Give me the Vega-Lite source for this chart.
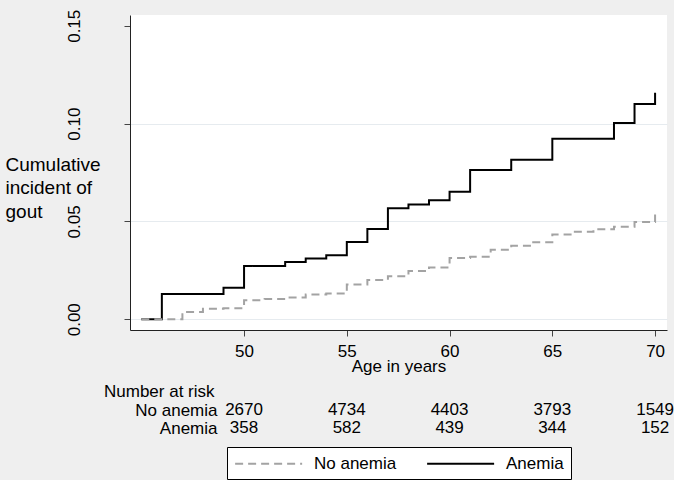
{
  "$schema": "https://vega.github.io/schema/vega-lite/v6.json",
  "background": "#efefef",
  "padding": {"left": 5, "top": 9, "right": 0, "bottom": 0},
  "spacing": 9,
  "config": {
    "font": "Liberation Sans",
    "view": {"stroke": null},
    "axis": {"labelColor": "black", "titleColor": "black", "titleFontWeight": "normal", "labelFontSize": 17, "titleFontSize": 17}
  },
  "datasets": {
    "curves": [
      {"group": "Anemia", "age": 45, "cuminc": 0},
      {"group": "Anemia", "age": 46, "cuminc": 0.0129},
      {"group": "Anemia", "age": 49, "cuminc": 0.0161},
      {"group": "Anemia", "age": 50, "cuminc": 0.0272},
      {"group": "Anemia", "age": 52, "cuminc": 0.0293},
      {"group": "Anemia", "age": 53, "cuminc": 0.0311},
      {"group": "Anemia", "age": 54, "cuminc": 0.0327},
      {"group": "Anemia", "age": 55, "cuminc": 0.0395},
      {"group": "Anemia", "age": 56, "cuminc": 0.0461},
      {"group": "Anemia", "age": 57, "cuminc": 0.0567},
      {"group": "Anemia", "age": 58, "cuminc": 0.0587},
      {"group": "Anemia", "age": 59, "cuminc": 0.0608},
      {"group": "Anemia", "age": 60, "cuminc": 0.0652},
      {"group": "Anemia", "age": 61, "cuminc": 0.0763},
      {"group": "Anemia", "age": 63, "cuminc": 0.0815},
      {"group": "Anemia", "age": 65, "cuminc": 0.0922},
      {"group": "Anemia", "age": 68, "cuminc": 0.1003},
      {"group": "Anemia", "age": 69, "cuminc": 0.1100},
      {"group": "Anemia", "age": 70, "cuminc": 0.1157},
      {"group": "No anemia", "age": 45, "cuminc": 0},
      {"group": "No anemia", "age": 47, "cuminc": 0.0037},
      {"group": "No anemia", "age": 48, "cuminc": 0.0053},
      {"group": "No anemia", "age": 49, "cuminc": 0.0056},
      {"group": "No anemia", "age": 50, "cuminc": 0.0097},
      {"group": "No anemia", "age": 51, "cuminc": 0.0103},
      {"group": "No anemia", "age": 52, "cuminc": 0.0111},
      {"group": "No anemia", "age": 53, "cuminc": 0.0127},
      {"group": "No anemia", "age": 54, "cuminc": 0.0131},
      {"group": "No anemia", "age": 55, "cuminc": 0.0178},
      {"group": "No anemia", "age": 56, "cuminc": 0.0200},
      {"group": "No anemia", "age": 57, "cuminc": 0.0220},
      {"group": "No anemia", "age": 58, "cuminc": 0.0247},
      {"group": "No anemia", "age": 59, "cuminc": 0.0265},
      {"group": "No anemia", "age": 60, "cuminc": 0.0313},
      {"group": "No anemia", "age": 61, "cuminc": 0.0320},
      {"group": "No anemia", "age": 62, "cuminc": 0.0355},
      {"group": "No anemia", "age": 63, "cuminc": 0.0375},
      {"group": "No anemia", "age": 64, "cuminc": 0.0394},
      {"group": "No anemia", "age": 65, "cuminc": 0.0433},
      {"group": "No anemia", "age": 66, "cuminc": 0.0447},
      {"group": "No anemia", "age": 67, "cuminc": 0.0460},
      {"group": "No anemia", "age": 68, "cuminc": 0.0473},
      {"group": "No anemia", "age": 69, "cuminc": 0.0497},
      {"group": "No anemia", "age": 70, "cuminc": 0.0535}
    ],
    "risk": [
      {"group": "No anemia", "age": 50, "n": 2670},
      {"group": "No anemia", "age": 55, "n": 4734},
      {"group": "No anemia", "age": 60, "n": 4403},
      {"group": "No anemia", "age": 65, "n": 3793},
      {"group": "No anemia", "age": 70, "n": 1549},
      {"group": "Anemia", "age": 50, "n": 358},
      {"group": "Anemia", "age": 55, "n": 582},
      {"group": "Anemia", "age": 60, "n": 439},
      {"group": "Anemia", "age": 65, "n": 344},
      {"group": "Anemia", "age": 70, "n": 152}
    ]
  },
  "vconcat": [
    {
      "width": 537,
      "height": 315,
      "view": {"fill": "white", "stroke": null},
      "data": {"name": "curves"},
      "mark": {"type": "line", "interpolate": "step-after", "strokeWidth": 2},
      "encoding": {
        "x": {
          "field": "age", "type": "quantitative",
          "scale": {"domain": [44.45, 70.58], "nice": false, "zero": false},
          "axis": {"values": [50, 55, 60, 65, 70], "grid": false, "tickSize": 6, "tickColor": "#444444", "domainColor": "#222222", "labelPadding": 7, "title": "Age in years", "titlePadding": -1}
        },
        "y": {
          "field": "cuminc", "type": "quantitative",
          "scale": {"domain": [-0.0055, 0.1555], "nice": false, "zero": false},
          "axis": {
            "values": [0, 0.05, 0.1, 0.15], "format": ".2f",
            "labelAngle": 270, "labelAlign": "center", "labelBaseline": "bottom", "labelPadding": 41,
            "tickSize": 6, "tickColor": "#444444", "domainColor": "#222222",
            "grid": true,
            "gridColor": {"condition": {"test": "datum.value > 0.12", "value": "transparent"}, "value": "#e6ebef"},
            "title": ["Cumulative", "incident of", "gout"],
            "titleFontSize": 19,
            "titleAngle": 0, "titleAlign": "left", "titleBaseline": "alphabetic",
            "titleX": -125, "titleY": 155, "titleLineHeight": 23.5
          }
        },
        "color": {
          "field": "group", "type": "nominal",
          "scale": {"domain": ["No anemia", "Anemia"], "range": ["#a3a3a3", "#000000"]},
          "legend": {
            "title": null, "orient": "none", "legendX": 97, "legendY": 432, "direction": "horizontal",
            "symbolType": "M-1,0H7", "symbolSize": 280.6, "symbolStrokeWidth": 2,
            "labelFontSize": 17, "labelColor": "black", "labelOffset": 61, "columnPadding": 26,
            "strokeColor": "black", "fillColor": "white", "padding": 7
          }
        },
        "strokeDash": {
          "field": "group", "type": "nominal",
          "scale": {"domain": ["No anemia", "Anemia"], "range": [[8, 5], [1, 0]]},
          "legend": {
            "title": null, "orient": "none", "legendX": 97, "legendY": 432, "direction": "horizontal",
            "symbolType": "M-1,0H7", "symbolSize": 280.6, "symbolStrokeWidth": 2,
            "labelFontSize": 17, "labelColor": "black", "labelOffset": 61, "columnPadding": 26,
            "strokeColor": "black", "fillColor": "white", "padding": 7
          }
        }
      }
    },
    {
      "width": 537,
      "height": 36,
      "title": {"text": "Number at risk", "anchor": "start", "dx": -26, "fontSize": 17, "fontWeight": "normal", "offset": -13, "baseline": "alphabetic", "color": "black"},
      "data": {"name": "risk"},
      "mark": {"type": "text", "fontSize": 17, "baseline": "middle", "align": "center", "color": "black"},
      "encoding": {
        "x": {"field": "age", "type": "quantitative", "scale": {"domain": [44.45, 70.58], "nice": false, "zero": false}, "axis": null},
        "y": {"field": "group", "type": "nominal", "scale": {"domain": ["No anemia", "Anemia"], "paddingInner": 0, "paddingOuter": 0},
              "axis": {"title": null, "domain": false, "ticks": false, "labelPadding": -87, "labelFontSize": 17, "labelColor": "black"}},
        "text": {"field": "n", "type": "quantitative", "format": "d"}
      }
    }
  ]
}
